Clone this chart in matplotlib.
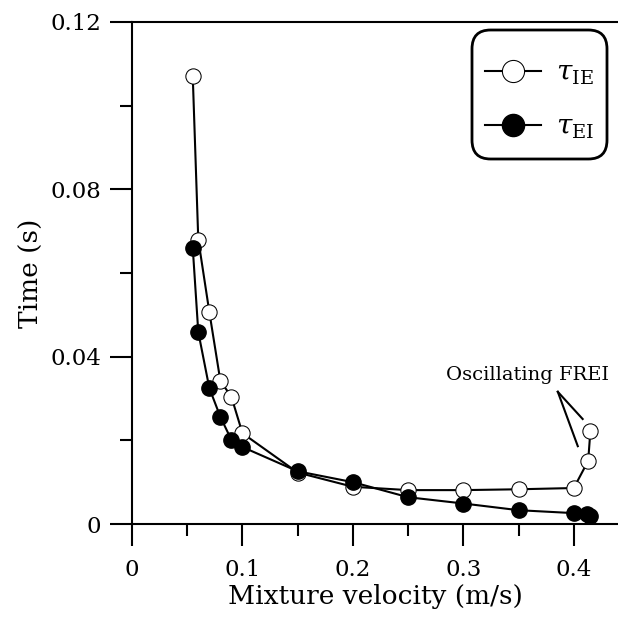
import numpy as np
import matplotlib
matplotlib.use('Agg')
import matplotlib.pyplot as plt
from matplotlib.ticker import MultipleLocator, FixedLocator
from matplotlib.patches import FancyBboxPatch

plt.rcParams['font.family'] = 'DejaVu Serif'
plt.rcParams['mathtext.fontset'] = 'dejavuserif'

# mixture velocity (m/s) and times (s)
v_ie = [0.055, 0.06, 0.07, 0.08, 0.09, 0.10, 0.15, 0.20, 0.25, 0.30, 0.35, 0.40, 0.413, 0.415]
tau_ie = [0.107, 0.068, 0.0507, 0.0342, 0.0304, 0.0217, 0.0123, 0.0089, 0.0081, 0.0081, 0.0083, 0.0086, 0.0151, 0.0222]

v_ei = [0.055, 0.06, 0.07, 0.08, 0.09, 0.10, 0.15, 0.20, 0.25, 0.30, 0.35, 0.40, 0.412, 0.415]
tau_ei = [0.066, 0.0459, 0.0325, 0.0256, 0.0201, 0.0184, 0.0126, 0.0100, 0.0064, 0.0049, 0.0033, 0.0026, 0.0024, 0.0019]

x_ticks = [0, 0.1, 0.2, 0.3, 0.4]
x_ticklabels = ['0', '0.1', '0.2', '0.3', '0.4']
y_ticks = [0, 0.04, 0.08, 0.12]
y_ticklabels = ['0', '0.04', '0.08', '0.12']

W, H = 618, 628
fig = plt.figure(figsize=(W / 100, H / 100), dpi=100)
ax = fig.add_axes([0.2136, 0.1656, 0.7864, 0.7994])

ax.plot(v_ie, tau_ie, '-o', color='black', lw=1.5, ms=11, mfc='white', mec='black', mew=0.75,
        label=r'$\tau_{\mathrm{IE}}$', zorder=3)
ax.plot(v_ei, tau_ei, '-o', color='black', lw=1.5, ms=11, mfc='black', mec='black',
        label=r'$\tau_{\mathrm{EI}}$', zorder=4)

# annotation for the oscillating points
ax.text(0.358, 0.0356, 'Oscillating FREI', ha='center', va='center', fontsize=14)
ax.plot([0.3855, 0.408], [0.0316, 0.0251], color='black', lw=1.5)
ax.plot([0.3855, 0.4036], [0.0316, 0.0186], color='black', lw=1.5)

ax.set_xlim(0, 0.44)
ax.set_ylim(0, 0.12)
ax.xaxis.set_major_locator(FixedLocator(x_ticks))
ax.set_xticklabels(x_ticklabels)
ax.xaxis.set_minor_locator(MultipleLocator(0.05))
ax.yaxis.set_major_locator(FixedLocator(y_ticks))
ax.set_yticklabels(y_ticklabels)
ax.yaxis.set_minor_locator(MultipleLocator(0.02))

ax.tick_params(which='major', direction='out', length=16, width=1.5, labelsize=16.5, pad=6)
ax.tick_params(which='minor', direction='out', length=8.5, width=1.5)
ax.tick_params(axis='x', which='major', pad=9)

ax.spines['right'].set_visible(False)
for s in ['left', 'bottom', 'top']:
    ax.spines[s].set_linewidth(1.5)

ax.set_xlabel('Mixture velocity (m/s)', fontsize=19, labelpad=2)
ax.set_ylabel('Time (s)', fontsize=19, labelpad=5)

# rounded legend box drawn on its own, legend entries centred inside it
x0, x1, y0, y1 = 472, 607, 30, 159
box = FancyBboxPatch((x0 / W, 1 - y1 / H), (x1 - x0) / W, (y1 - y0) / H,
                     boxstyle='round,pad=0,rounding_size=0.03', transform=fig.transFigure,
                     facecolor='white', edgecolor='black', linewidth=2, zorder=5,
                     clip_on=False)
ax.add_patch(box)
leg = ax.legend(loc='center', bbox_to_anchor=((x0 + x1) / 2 / W, 1 - ((y0 + y1) / 2 + 6) / H),
                bbox_transform=fig.transFigure, fontsize=20, markerscale=1.45,
                handlelength=2.0, handletextpad=0.55, labelspacing=0.95,
                borderpad=0, borderaxespad=0, frameon=False)
leg.set_zorder(6)

fig.savefig('out.png', dpi=100)
